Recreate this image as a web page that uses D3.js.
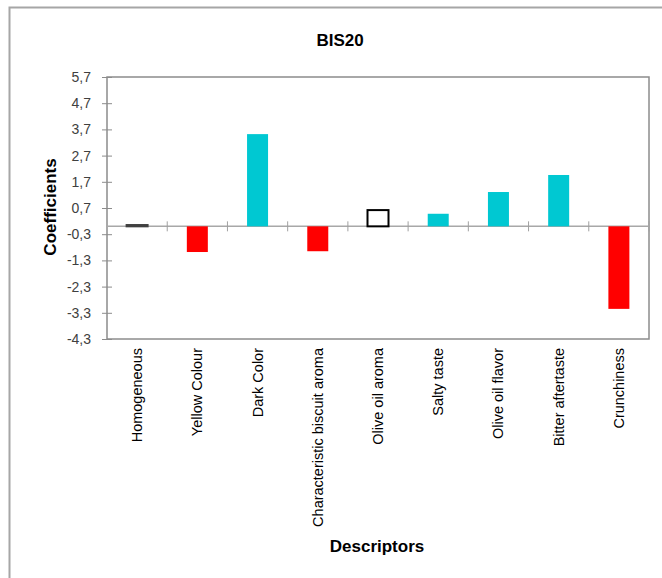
<!DOCTYPE html>
<html><head><meta charset="utf-8">
<script src="https://cdn.jsdelivr.net/npm/d3@7"></script>
<style>body{margin:0;background:#fff}svg{display:block}</style>
</head><body>
<script>
const categories = ["Homogeneous","Yellow Colour","Dark Color","Characteristic biscuit aroma","Olive oil aroma","Salty taste","Olive oil flavor","Bitter aftertaste","Crunchiness"];
const values = [0.05,-0.98,3.52,-0.95,0.62,0.48,1.31,1.96,-3.15];
const barTypes = ["neutral","neg","pos","neg","outline","pos","pos","pos","neg"];
const yTicks = [5.7,4.7,3.7,2.7,1.7,0.7,-0.3,-1.3,-2.3,-3.3,-4.3];
const title = "BIS20", xTitle = "Descriptors", yTitle = "Coefficients";

const W=662,H=578;
const m={l:107,t:77,r:649,b:339};
const svg=d3.select("body").append("svg").attr("width",W).attr("height",H);
svg.append("path").attr("d",`M9.5,${H} L9.5,7.5 L${W},7.5`).attr("fill","none").attr("stroke","#a6a6a6").attr("stroke-width",2);

const x=d3.scaleBand().domain(categories).range([m.l,m.r]);
const y=d3.scaleLinear().domain([-4.3,5.7]).range([m.b,m.t]);
const axisCol="#8c8c8c";

svg.append("rect").attr("x",m.l).attr("y",m.t).attr("width",m.r-m.l).attr("height",m.b-m.t)
  .attr("fill","none").attr("stroke",axisCol).attr("stroke-width",1.5);

const ya=svg.append("g").attr("transform",`translate(${m.l},0)`)
  .call(d3.axisLeft(y).tickValues(yTicks).tickSize(5).tickFormat(d=>d3.format(".1f")(d).replace(".",",").replace("−","-")));
ya.attr("font-size",14).attr("font-family","Liberation Sans, Arial, sans-serif");
ya.select(".domain").remove();
ya.selectAll(".tick line").attr("stroke",axisCol).attr("x2",-5).attr("x1",5);
ya.selectAll(".tick text").attr("x",-16).attr("fill","#404040");

svg.append("line").attr("x1",m.l).attr("x2",m.r).attr("y1",y(0)).attr("y2",y(0)).attr("stroke","#a8a8a8").attr("stroke-width",1.5);
const bounds=categories.map((c,i)=>x(c)).slice(1).concat([m.r]);
svg.selectAll(".ct").data(bounds).enter().append("line")
  .attr("x1",d=>d).attr("x2",d=>d).attr("y1",y(0)-5).attr("y2",y(0)+5).attr("stroke","#a0a0a0").attr("stroke-width",1);

const bw=21;
const fills={neg:"#ff0000",pos:"#00c8d2",outline:"#ffffff",neutral:"#404040"};
svg.selectAll(".bar").data(values).enter().append("rect")
  .attr("x",(d,i)=>x(categories[i])+x.bandwidth()/2-bw/2)
  .attr("width",bw)
  .attr("y",d=>y(Math.max(0,d)))
  .attr("height",d=>Math.abs(y(d)-y(0)))
  .attr("fill",(d,i)=>fills[barTypes[i]])
  .attr("stroke",(d,i)=>barTypes[i]==="outline"?"#000":(barTypes[i]==="neutral"?"#404040":"none"))
  .attr("stroke-width",(d,i)=>barTypes[i]==="outline"?2:(barTypes[i]==="neutral"?2:0));

svg.selectAll(".xl").data(categories).enter().append("text")
  .attr("transform",d=>`translate(${x(d)+x.bandwidth()/2+5},${m.b+9}) rotate(-90)`)
  .attr("text-anchor","end").attr("fill","#000")
  .style("font-family","Liberation Sans, Arial, sans-serif").style("font-size","14.5px")
  .text(d=>d);

svg.append("text").attr("x",340).attr("y",46).attr("text-anchor","middle")
  .style("font-family","Liberation Sans, Arial, sans-serif").style("font-weight","bold").style("font-size","17px").text(title);
svg.append("text").attr("x",377).attr("y",552).attr("text-anchor","middle")
  .style("font-family","Liberation Sans, Arial, sans-serif").style("font-weight","bold").style("font-size","17px").text(xTitle);
svg.append("text").attr("transform",`translate(56,207) rotate(-90)`).attr("text-anchor","middle")
  .style("font-family","Liberation Sans, Arial, sans-serif").style("font-weight","bold").style("font-size","17px").text(yTitle);
</script>
</body></html>
